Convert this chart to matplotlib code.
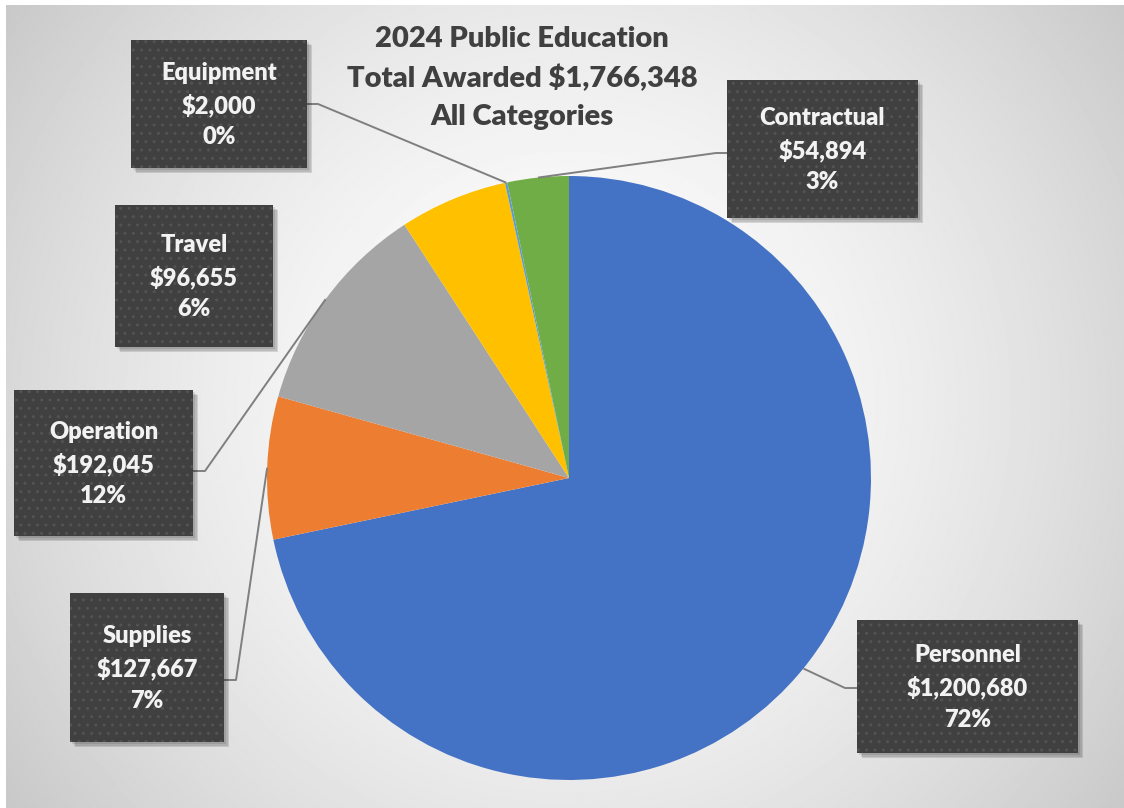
import numpy as np
import matplotlib.pyplot as plt
from matplotlib.patches import Rectangle

# data
categories = ["Personnel", "Supplies", "Operation", "Travel", "Equipment", "Contractual"]
amounts = [1200680, 127667, 192045, 96655, 2000, 54894]
pct_labels = ["72%", "7%", "12%", "6%", "0%", "3%"]
colors = ["#4472C4", "#ED7D31", "#A5A5A5", "#FFC000", "#5B9BD5", "#70AD47"]
title_lines = ["2024 Public Education", "Total Awarded $1,766,348", "All Categories"]

W, H = 1124, 808
plt.rcParams['font.family'] = ['Lato', 'DejaVu Sans']

fig = plt.figure(figsize=(W / 100, H / 100), dpi=100)
ax = fig.add_axes([0, 0, 1, 1])

# radial gray background
gx, gy = np.meshgrid(np.arange(W), np.arange(H))
d = np.hypot(gx - 565, gy - 400) / np.hypot(565, 420)
bg = 1 - 0.22 * np.clip(d, 0, 1.2) ** 1.6
ax.imshow(bg, cmap='gray', vmin=0, vmax=1, extent=(6, W, 0, H - 5),
          origin='upper', zorder=0, aspect='auto')

# pie, pixel coordinates with y pointing up
cx, cy, r = 569, H - 478, 302
wedges, _ = ax.pie(amounts, colors=colors, startangle=90, counterclock=False,
                   center=(cx, cy), radius=r, frame=True,
                   wedgeprops=dict(linewidth=0, zorder=2))

# label boxes: left, top, width, height (pixels from top-left)
boxes = {
    "Personnel": (857, 620, 221, 133),
    "Supplies": (70, 593, 154, 149),
    "Operation": (14, 390, 179, 146),
    "Travel": (115, 205, 158, 142),
    "Equipment": (131, 40, 176, 128),
    "Contractual": (727, 80, 191, 138),
}
# leader line: box anchor and elbow (pixels from top)
leaders = {
    "Personnel": ((857, 688), (845, 688)),
    "Supplies": ((224, 680), (236, 680)),
    "Operation": ((193, 471), (205, 471)),
    "Equipment": ((307, 104), (318, 104)),
    "Contractual": ((727, 153), (716, 153)),
}

for i, name in enumerate(categories):
    w = wedges[i]
    mid = np.deg2rad((w.theta1 + w.theta2) / 2)
    px, py = cx + r * np.cos(mid), cy + r * np.sin(mid)
    if name in leaders:
        (ax0, ay0), (ex, ey) = leaders[name]
        ax.plot([ax0, ex, px], [H - ay0, H - ey, py], color='#7F7F7F',
                lw=1.4, zorder=3, solid_capstyle='butt')

    left, top, bw, bh = boxes[name]
    bottom = H - top - bh
    for k, a in enumerate([0.10, 0.10, 0.12]):
        off = 2 + k * 1.5
        ax.add_patch(Rectangle((left + off, bottom - off), bw, bh,
                               facecolor='#000000', alpha=a, lw=0, zorder=4))
    ax.add_patch(Rectangle((left, bottom), bw, bh, facecolor='#404040',
                           edgecolor='#535353', lw=0, hatch='..', zorder=5))
    ax.text(left + bw / 2, bottom + bh / 2 - 1,
            f"{name}\n${amounts[i]:,}\n{pct_labels[i]}",
            ha='center', va='center', color='#F2F2F2', fontsize=17,
            fontweight='heavy', linespacing=1.5, zorder=6)

ax.text(522, H - 78, "\n".join(title_lines), ha='center', va='center',
        color='#404040', fontsize=21, fontweight='heavy', linespacing=1.55,
        zorder=6)

ax.set_xlim(0, W)
ax.set_ylim(0, H)
ax.set_aspect('auto')
ax.axis('off')

fig.savefig("out.png", dpi=100, facecolor='white')
